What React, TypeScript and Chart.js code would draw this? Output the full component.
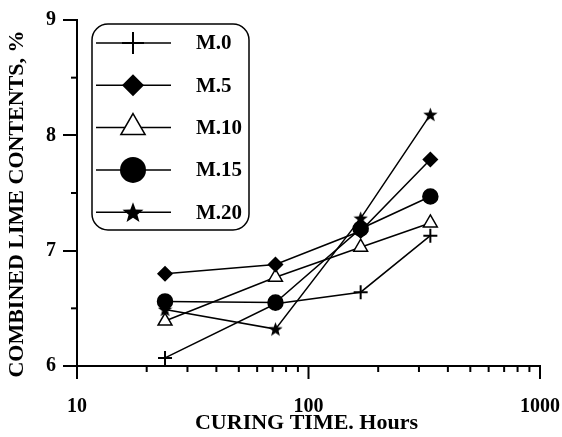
import React, { useEffect, useRef } from 'react';
import { Chart, registerables } from 'chart.js';

Chart.register(...registerables);

// ---- data ----
const hours = [24, 72, 168, 336];
const seriesNames = ['M.0', 'M.5', 'M.10', 'M.15', 'M.20'];
const m0 = [6.07, 6.54, 6.64, 7.13];
const m5 = [6.8, 6.88, 7.17, 7.79];
const m10 = [6.39, 6.77, 7.03, 7.24];
const m15 = [6.56, 6.55, 7.19, 7.47];
const m20 = [6.49, 6.32, 7.28, 8.18];
const yMajorTicks = [6, 7, 8, 9];
const yMinorTicks = [6.5, 7.5, 8.5];
const xLabelTicks = [10, 100, 1000];
const xTickValues = [10, 20, 30, 40, 50, 60, 70, 80, 90, 100, 200, 300, 400, 500, 600, 700, 800, 900, 1000];
const yTitle = 'COMBINED LIME CONTENTS, %';
const xTitle = 'CURING TIME. Hours';

const FONT = '"Liberation Serif", "Times New Roman", serif';

function starPath(ctx: CanvasRenderingContext2D, cx: number, cy: number, R: number, r: number) {
  ctx.beginPath();
  for (let i = 0; i < 10; i++) {
    const a = -Math.PI / 2 + (i * Math.PI) / 5;
    const rad = i % 2 === 0 ? R : r;
    const px = cx + rad * Math.cos(a);
    const py = cy + rad * Math.sin(a);
    if (i === 0) ctx.moveTo(px, py);
    else ctx.lineTo(px, py);
  }
  ctx.closePath();
}

function makeStar(size: number) {
  const c = document.createElement('canvas');
  c.width = size;
  c.height = size;
  const ctx = c.getContext('2d')!;
  ctx.fillStyle = '#000';
  starPath(ctx, size / 2, size / 2 + 0.6, size / 2, (size / 2) * 0.42);
  ctx.fill();
  return c;
}

function drawMarker(ctx: CanvasRenderingContext2D, kind: string, x: number, y: number, r: number) {
  ctx.save();
  ctx.strokeStyle = '#000';
  ctx.fillStyle = '#000';
  ctx.lineWidth = 1.5;
  if (kind === 'cross') {
    ctx.lineWidth = 2;
    ctx.beginPath();
    ctx.moveTo(x - r, y);
    ctx.lineTo(x + r, y);
    ctx.moveTo(x, y - r);
    ctx.lineTo(x, y + r);
    ctx.stroke();
  } else if (kind === 'diamond') {
    ctx.beginPath();
    ctx.moveTo(x - r, y);
    ctx.lineTo(x, y - r);
    ctx.lineTo(x + r, y);
    ctx.lineTo(x, y + r);
    ctx.closePath();
    ctx.fill();
  } else if (kind === 'triangle') {
    ctx.beginPath();
    ctx.moveTo(x, y - r);
    ctx.lineTo(x + r * Math.sin((2 * Math.PI) / 3), y - r * Math.cos((2 * Math.PI) / 3));
    ctx.lineTo(x + r * Math.sin((4 * Math.PI) / 3), y - r * Math.cos((4 * Math.PI) / 3));
    ctx.closePath();
    ctx.fillStyle = '#fff';
    ctx.fill();
    ctx.stroke();
  } else if (kind === 'circle') {
    ctx.beginPath();
    ctx.arc(x, y, r, 0, Math.PI * 2);
    ctx.fill();
  } else if (kind === 'star') {
    starPath(ctx, x, y + 1, r, r * 0.42);
    ctx.fill();
  }
  ctx.restore();
}

const legendKinds = ['cross', 'diamond', 'triangle', 'circle', 'star'];
const legendSizes = [11, 11, 14, 13, 11];

const decorPlugin = {
  id: 'decor',
  afterDraw(chart: any) {
    const { ctx, scales, chartArea } = chart;
    const x = scales.x;
    const y = scales.y;
    ctx.save();
    ctx.strokeStyle = '#000';
    ctx.lineWidth = 2;
    // y minor ticks
    for (const v of yMinorTicks) {
      const py = y.getPixelForValue(v);
      ctx.beginPath();
      ctx.moveTo(chartArea.left - 6, py);
      ctx.lineTo(chartArea.left, py);
      ctx.stroke();
    }
    // x ticks (downward)
    for (const v of xTickValues) {
      const px = x.getPixelForValue(v);
      const major = xLabelTicks.includes(v);
      ctx.beginPath();
      ctx.moveTo(px, chartArea.bottom);
      ctx.lineTo(px, chartArea.bottom + (major ? 13 : 6));
      ctx.stroke();
    }
    // y axis title (rotated)
    ctx.save();
    ctx.translate(17, 204);
    ctx.rotate(-Math.PI / 2);
    ctx.font = `bold 22px ${FONT}`;
    ctx.fillStyle = '#000';
    ctx.textAlign = 'center';
    ctx.textBaseline = 'middle';
    ctx.fillText(yTitle, 0, 0);
    ctx.restore();
    // x axis title
    ctx.font = `bold 22px ${FONT}`;
    ctx.fillStyle = '#000';
    ctx.textAlign = 'center';
    ctx.textBaseline = 'alphabetic';
    ctx.fillText(xTitle, (chartArea.left + chartArea.right) / 2 - 2, 429);
    // legend box
    const bx = 92, by = 24, bw = 157, bh = 206, rr = 16;
    ctx.lineWidth = 1.5;
    ctx.beginPath();
    ctx.moveTo(bx + rr, by);
    ctx.lineTo(bx + bw - rr, by);
    ctx.arcTo(bx + bw, by, bx + bw, by + rr, rr);
    ctx.lineTo(bx + bw, by + bh - rr);
    ctx.arcTo(bx + bw, by + bh, bx + bw - rr, by + bh, rr);
    ctx.lineTo(bx + rr, by + bh);
    ctx.arcTo(bx, by + bh, bx, by + bh - rr, rr);
    ctx.lineTo(bx, by + rr);
    ctx.arcTo(bx, by, bx + rr, by, rr);
    ctx.closePath();
    ctx.fillStyle = '#fff';
    ctx.fill();
    ctx.stroke();
    // legend rows
    ctx.font = `bold 21px ${FONT}`;
    ctx.textBaseline = 'middle';
    ctx.textAlign = 'left';
    for (let i = 0; i < seriesNames.length; i++) {
      const ry = 43 + i * 42.3;
      ctx.lineWidth = 1.5;
      ctx.strokeStyle = '#000';
      ctx.beginPath();
      ctx.moveTo(96, ry);
      ctx.lineTo(171, ry);
      ctx.stroke();
      drawMarker(ctx, legendKinds[i], 133, ry, legendSizes[i]);
      ctx.fillStyle = '#000';
      ctx.fillText(seriesNames[i], 196, ry + 1);
    }
    ctx.restore();
  },
};

export default function App() {
  const ref = useRef<HTMLCanvasElement | null>(null);
  useEffect(() => {
    document.body.style.margin = '0';
    const star = makeStar(15);
    const mk = (label: string, vals: number[], style: any, radius: number, bg: string) => ({
      label,
      data: hours.map((h, i) => ({ x: h, y: vals[i] })),
      borderColor: '#000',
      borderWidth: 1.5,
      backgroundColor: bg,
      pointStyle: style,
      pointRadius: radius,
      pointBorderColor: '#000',
      pointBackgroundColor: bg,
      pointBorderWidth: style === 'cross' ? 2 : 1.5,
      fill: false,
      tension: 0,
    });
    const chart = new Chart(ref.current!, {
      type: 'line',
      data: {
        datasets: [
          mk(seriesNames[0], m0, 'cross', 7, '#000'),
          mk(seriesNames[1], m5, 'rectRot', 7, '#000'),
          mk(seriesNames[2], m10, 'triangle', 8, '#fff'),
          mk(seriesNames[3], m15, 'circle', 7.5, '#000'),
          mk(seriesNames[4], m20, star, 7, '#000'),
        ] as any,
      },
      options: {
        animation: false,
        responsive: false,
        layout: { padding: { top: 20, right: 22, left: 0, bottom: 0 } },
        plugins: { legend: { display: false }, tooltip: { enabled: false } },
        scales: {
          x: {
            type: 'logarithmic',
            min: 10,
            max: 1000,
            afterFit: (s: any) => {
              s.height = 71;
              s.paddingLeft = 0;
              s.paddingRight = 0;
            },
            afterBuildTicks: (s: any) => {
              s.ticks = xTickValues.map((v) => ({ value: v }));
            },
            grid: { display: false, drawTicks: false },
            border: { display: true, color: '#000', width: 2 },
            ticks: {
              autoSkip: false,
              maxRotation: 0,
              minRotation: 0,
              padding: 29,
              color: '#000',
              font: { family: FONT, size: 20, weight: 'bold' },
              callback: (v: any) => (xLabelTicks.includes(Number(v)) ? String(v) : ''),
            },
            title: { display: false },
          },
          y: {
            type: 'linear',
            min: 6,
            max: 9,
            afterFit: (s: any) => {
              s.width = 77;
              s.paddingTop = 0;
              s.paddingBottom = 0;
            },
            afterBuildTicks: (s: any) => {
              s.ticks = yMajorTicks.map((v) => ({ value: v }));
            },
            grid: {
              display: true,
              drawOnChartArea: false,
              drawTicks: true,
              tickLength: 14,
              color: '#000',
              lineWidth: 2,
            },
            border: { display: true, color: '#000', width: 2 },
            ticks: {
              padding: 7,
              color: '#000',
              font: { family: FONT, size: 20, weight: 'bold' },
              callback: (v: any) => String(v),
            },
            title: { display: false },
          },
        },
      } as any,
      plugins: [decorPlugin],
    });
    return () => chart.destroy();
  }, []);
  return (
    <div style={{ width: 562, height: 437, background: '#fff' }}>
      <canvas ref={ref} width={562} height={437} style={{ display: 'block' }} />
    </div>
  );
}
